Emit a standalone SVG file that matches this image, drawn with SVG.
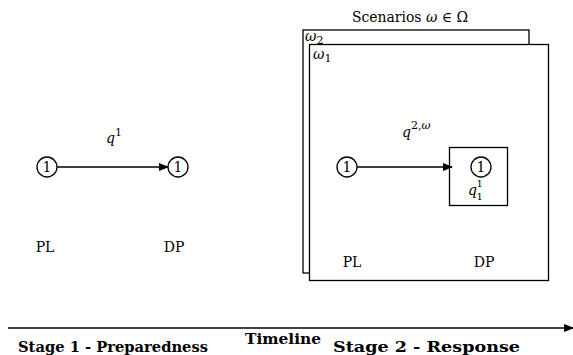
<svg xmlns="http://www.w3.org/2000/svg" width="573" height="355" viewBox="0 0 573 355">
<style>
text{font-family:"DejaVu Serif","Liberation Serif",serif;fill:#000}
.lbl{font-size:14px}
.m{font-style:italic}
.s{font-size:11px;font-style:normal}
.ss{font-size:10px;font-style:normal}
.b{font-weight:bold;font-size:15px}
.node circle{fill:#fff;stroke:#000;stroke-width:1.3}
.node text{font-size:14px;text-anchor:middle}
.box{fill:#fff;stroke:#000;stroke-width:1.3}
.edge{stroke:#000;stroke-width:1.3;fill:none}
</style>
<defs>
<marker id="ah" markerWidth="10" markerHeight="8" refX="9" refY="4" orient="auto" markerUnits="userSpaceOnUse">
<path d="M0,0 L10,4 L0,8 Z" fill="#000"/>
</marker>
</defs>
<text class="lbl" x="352" y="22" textLength="116" lengthAdjust="spacingAndGlyphs">Scenarios <tspan class="m">ω</tspan> ∈ Ω</text>
<g id="scenario2"><rect class="box" x="303" y="30" width="226" height="243"/>
<text class="lbl m" x="305" y="41">ω<tspan class="s" dy="3">2</tspan></text></g>
<g id="scenario1"><rect class="box" x="309.5" y="44.5" width="239" height="236"/>
<text class="lbl m" x="313" y="59">ω<tspan class="s" dy="3">1</tspan></text></g>
<g id="dpbox"><rect class="box" x="449.5" y="147.5" width="58" height="58" fill="none"/></g>
<g id="pl1" class="node"><circle cx="47" cy="167" r="10"/><text x="47" y="172">1</text></g>
<g id="dp1" class="node"><circle cx="178" cy="167" r="10"/><text x="178" y="172">1</text></g>
<g id="pl2" class="node"><circle cx="347" cy="167" r="10"/><text x="347" y="172">1</text></g>
<g id="dp2" class="node"><circle cx="481" cy="167" r="10"/><text x="481" y="172">1</text></g>
<g id="connectors">
<line class="edge" x1="57" y1="167" x2="168" y2="167" marker-end="url(#ah)"/>
<line class="edge" x1="357" y1="167" x2="452" y2="167" marker-end="url(#ah)"/>
<line class="edge" x1="8" y1="328" x2="573" y2="328" marker-end="url(#ah)"/>
</g>
<text class="lbl m" x="106" y="143">q<tspan class="s" dy="-7">1</tspan></text>
<text class="lbl m" x="402" y="137">q<tspan class="s" dy="-8">2,<tspan font-style="italic">ω</tspan></tspan></text>
<g id="q11">
<text class="lbl m" x="468" y="195">q</text>
<text class="ss" x="476.5" y="187">1</text>
<text class="ss" x="476.5" y="200">1</text>
</g>
<text class="lbl" x="45" y="252" text-anchor="middle">PL</text>
<text class="lbl" x="174" y="252" text-anchor="middle">DP</text>
<text class="lbl" x="352" y="267" text-anchor="middle">PL</text>
<text class="lbl" x="484" y="267" text-anchor="middle">DP</text>
<text class="b" x="245" y="344" textLength="76" lengthAdjust="spacingAndGlyphs">Timeline</text>
<text class="b" x="18" y="352" textLength="190" lengthAdjust="spacingAndGlyphs">Stage 1 - Preparedness</text>
<text class="b" x="333" y="352" textLength="187" lengthAdjust="spacingAndGlyphs">Stage 2 - Response</text>
</svg>
